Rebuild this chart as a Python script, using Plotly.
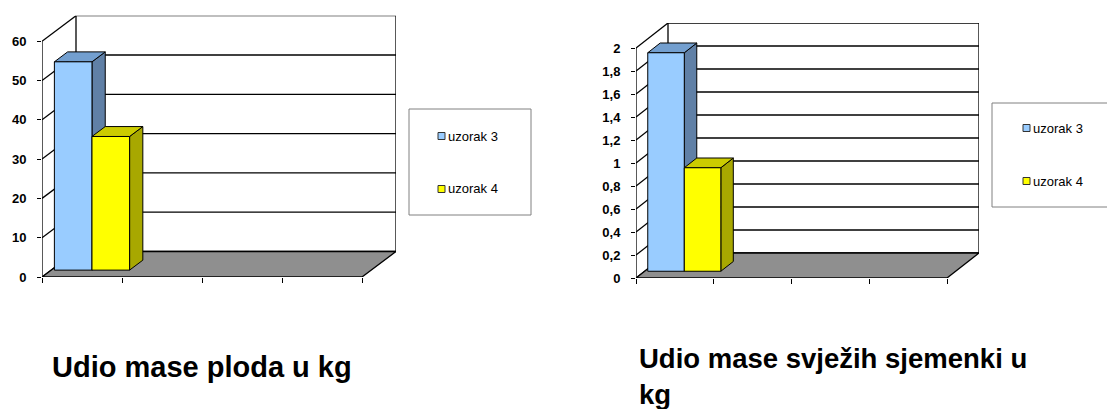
import plotly.graph_objects as go

# ---- data -------------------------------------------------------------
series_names = ["uzorak 3", "uzorak 4"]
fruit_mass = [53, 34]          # Udio mase ploda u kg
seed_mass = [1.9, 0.9]         # Udio mase svježih sjemenki u kg

fruit_ticks = [0, 10, 20, 30, 40, 50, 60]
fruit_ticktext = ["0", "10", "20", "30", "40", "50", "60"]
seed_ticks = [0, 0.2, 0.4, 0.6, 0.8, 1.0, 1.2, 1.4, 1.6, 1.8, 2.0]
seed_ticktext = ["0", "0,2", "0,4", "0,6", "0,8", "1", "1,2", "1,4", "1,6", "1,8", "2"]

titles = ["Udio mase ploda u kg", "Udio mase svježih sjemenki u<br>kg"]
n_slots = 4  # category slots along the floor

# ---- styling ----------------------------------------------------------
W, H = 1107, 409
FONT = "Liberation Sans, Arial, sans-serif"
front_colors = ["#99CCFF", "#FFFF00"]
top_colors = ["#739FCF", "#CCCC00"]
side_colors = ["#6080A6", "#A8A800"]
FLOOR = "#8F8F8F"

# front plane origin (px), category width (px), px per value unit, depth vector (px)
panels = [
    dict(ax="", vals=fruit_mass, ticks=fruit_ticks, ticktext=fruit_ticktext,
         ox=42, oy=277, cat=80.0, unit=3.93, ymax=60, ddx=34, ddy=25.5),
    dict(ax="2", vals=seed_mass, ticks=seed_ticks, ticktext=seed_ticktext,
         ox=636, oy=278, cat=77.75, unit=115.0, ymax=2, ddx=32, ddy=25),
]

F0, F1 = 0.27, 0.66    # bar front / back as fraction of depth
GAP, BW = 0.04, 0.47   # gap before first bar, bar width (category units)


def px_x(p):
    return p / W


def px_y(p):
    return 1 - p / H


fig = go.Figure()
shapes = []
annotations = []
LINE = dict(color="black", width=1.3)

for pn in panels:
    xr, yr = "x" + pn["ax"], "y" + pn["ax"]
    Dx = pn["ddx"] / pn["cat"]
    Dy = pn["ddy"] / pn["unit"]
    ymax = pn["ymax"]
    n = n_slots

    x_dom = [px_x(pn["ox"]), px_x(pn["ox"] + pn["cat"] * n + pn["ddx"])]
    y_dom = [px_y(pn["oy"]), px_y(pn["oy"] - pn["unit"] * ymax - pn["ddy"])]

    xa = dict(domain=x_dom, range=[0, n + Dx], showgrid=False, zeroline=False,
              showline=False, ticks="outside", ticklen=5, tickwidth=1,
              tickcolor="black", tickvals=list(range(n + 1)),
              showticklabels=False, fixedrange=True, automargin=False)
    ya = dict(domain=y_dom, range=[0, ymax + Dy], showgrid=False, zeroline=False,
              showline=False, ticks="outside", ticklen=4, tickwidth=1,
              tickcolor="black", tickvals=pn["ticks"], ticktext=pn["ticktext"],
              tickfont=dict(family=FONT, size=13, color="black", weight="bold"),
              ticklabelstandoff=8, fixedrange=True, automargin=False)
    if pn["ax"]:
        xa["anchor"] = "y2"
        ya["anchor"] = "x2"
    fig.update_layout(**{"xaxis" + pn["ax"]: xa, "yaxis" + pn["ax"]: ya})

    # back wall
    shapes.append(dict(type="rect", xref=xr, yref=yr, x0=Dx, x1=n + Dx,
                       y0=Dy, y1=ymax + Dy, fillcolor="white", line=LINE,
                       layer="below"))
    for t in pn["ticks"][1:-1]:
        shapes.append(dict(type="line", xref=xr, yref=yr, x0=Dx, x1=n + Dx,
                           y0=t + Dy, y1=t + Dy, line=LINE, layer="below"))
    # left wall edges at each tick
    for t in pn["ticks"]:
        shapes.append(dict(type="line", xref=xr, yref=yr, x0=0, x1=Dx,
                           y0=t, y1=t + Dy, line=LINE, layer="below"))
    shapes.append(dict(type="line", xref=xr, yref=yr, x0=0, x1=0,
                       y0=0, y1=ymax, line=LINE, layer="below"))
    # floor
    shapes.append(dict(type="path", xref=xr, yref=yr,
                       path=f"M0,0 L{n},0 L{n + Dx},{Dy} L{Dx},{Dy} Z",
                       fillcolor=FLOOR, line=LINE, layer="below"))

    # bars: front faces as bar traces, tops and sides from the same values
    bdx, bdy = (F1 - F0) * Dx, (F1 - F0) * Dy
    base = F0 * Dy
    for i, (name, v) in enumerate(zip(series_names, pn["vals"])):
        x0 = F0 * Dx + GAP + i * BW
        x1 = x0 + BW
        top = base + v
        fig.add_trace(go.Bar(
            x=[x0 + BW / 2], y=[v], base=[base], width=[BW], name=name,
            marker=dict(color=front_colors[i], line=dict(color="black", width=1)),
            xaxis=xr, yaxis=yr, showlegend=False, hoverinfo="skip"))
        shapes.append(dict(type="path", xref=xr, yref=yr,
                           path=f"M{x1},{base} L{x1},{top} L{x1 + bdx},{top + bdy} "
                                f"L{x1 + bdx},{base + bdy} Z",
                           fillcolor=side_colors[i],
                           line=dict(color="black", width=1), layer="below"))
        shapes.append(dict(type="path", xref=xr, yref=yr,
                           path=f"M{x0},{top} L{x1},{top} L{x1 + bdx},{top + bdy} "
                                f"L{x0 + bdx},{top + bdy} Z",
                           fillcolor=top_colors[i],
                           line=dict(color="black", width=1), layer="below"))

# ---- legends ------------------------------------------------------------
legend_boxes = [
    dict(x0=409, y0=109, x1=531, y1=215, mx=438, rows=[136, 189]),
    dict(x0=992, y0=103, x1=1115, y1=207, mx=1023, rows=[128, 181]),
]
for lb in legend_boxes:
    shapes.append(dict(type="rect", xref="paper", yref="paper",
                       x0=px_x(lb["x0"]), x1=px_x(lb["x1"]),
                       y0=px_y(lb["y1"]), y1=px_y(lb["y0"]),
                       fillcolor="white", line=dict(color="#808080", width=1)))
    for i, (name, ry) in enumerate(zip(series_names, lb["rows"])):
        shapes.append(dict(type="rect", xref="paper", yref="paper",
                           x0=px_x(lb["mx"]), x1=px_x(lb["mx"] + 7),
                           y0=px_y(ry + 3.5), y1=px_y(ry - 3.5),
                           fillcolor=front_colors[i],
                           line=dict(color="#333333", width=1)))
        annotations.append(dict(text=name, xref="paper", yref="paper",
                                x=px_x(lb["mx"] + 8), y=px_y(ry),
                                xanchor="left", yanchor="middle", showarrow=False,
                                font=dict(family=FONT, size=13, color="black")))

# ---- chart titles -------------------------------------------------------
annotations.append(dict(text=titles[0], xref="paper", yref="paper",
                        x=px_x(50), y=px_y(367), xanchor="left", yanchor="middle",
                        showarrow=False, align="left",
                        font=dict(family=FONT, size=29, color="black", weight="bold")))
annotations.append(dict(text=titles[1], xref="paper", yref="paper",
                        x=px_x(637), y=px_y(376), xanchor="left", yanchor="middle",
                        showarrow=False, align="left",
                        font=dict(family=FONT, size=27.5, color="black", weight="bold")))

fig.update_layout(
    template="none",
    width=W, height=H, margin=dict(l=0, r=0, t=0, b=0, pad=0),
    paper_bgcolor="white", plot_bgcolor="rgba(0,0,0,0)",
    barmode="overlay", showlegend=False,
    shapes=shapes, annotations=annotations,
)

fig.write_html("out.html")
